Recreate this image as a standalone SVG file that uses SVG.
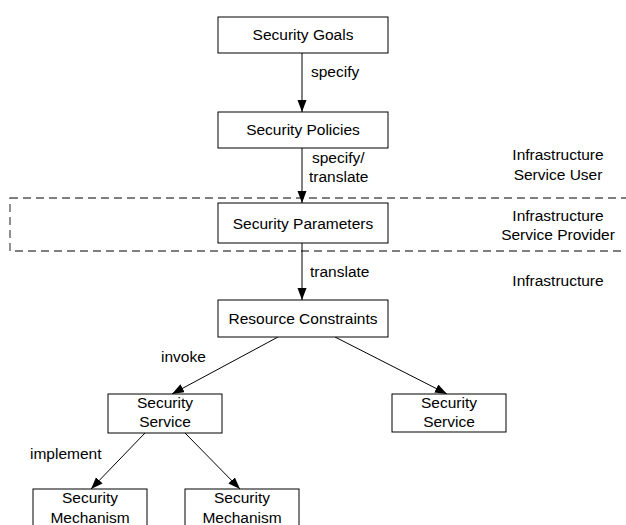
<svg xmlns="http://www.w3.org/2000/svg" width="626" height="525" viewBox="0 0 626 525">
<style>
.box{fill:#fff;stroke:#000;stroke-width:1}
.t{font-family:"Liberation Sans",Arial,sans-serif;font-size:15.5px;fill:#000;text-anchor:middle}
.l{font-family:"Liberation Sans",Arial,sans-serif;font-size:15.5px;fill:#000}
.c{stroke:#000;stroke-width:1;fill:none;marker-end:url(#ah)}
.dash{fill:none;stroke:#555;stroke-width:1.3;stroke-dasharray:8,5}
</style>
<defs>
<marker id="ah" markerUnits="userSpaceOnUse" markerWidth="13" markerHeight="10" refX="12" refY="4.5" orient="auto">
<path d="M0,0 L12,4.5 L0,9 z" fill="#000"/>
</marker>
</defs>
<rect width="626" height="525" fill="#fff"/>
<rect id="provider-zone" class="dash" x="10" y="198" width="630" height="53"/>
<g id="zone-labels">
<text class="t" x="558" y="160">Infrastructure</text>
<text class="t" x="558" y="180">Service User</text>
<text class="t" x="558" y="221">Infrastructure</text>
<text class="t" x="558" y="240">Service Provider</text>
<text class="t" x="558" y="286">Infrastructure</text>
</g>
<g id="connectors">
<line class="c" x1="302" y1="53" x2="302" y2="112"/>
<text class="l" x="311" y="77">specify</text>
<line class="c" x1="302" y1="148" x2="302" y2="203"/>
<text class="l" x="312" y="163">specify/</text>
<text class="l" x="309" y="182">translate</text>
<line class="c" x1="302" y1="243" x2="302" y2="300"/>
<text class="l" x="310" y="277">translate</text>
<line class="c" x1="278" y1="337" x2="172" y2="394"/>
<text class="l" x="161" y="362">invoke</text>
<line class="c" x1="335" y1="337" x2="447" y2="394"/>
<line class="c" x1="145" y1="433" x2="91" y2="489"/>
<text class="l" x="30" y="459">implement</text>
<line class="c" x1="185" y1="433" x2="240" y2="489"/>
</g>
<g id="goals">
<rect class="box" x="218" y="17" width="170" height="36"/>
<text class="t" x="303" y="40">Security Goals</text>
</g>
<g id="policies">
<rect class="box" x="218" y="112" width="170" height="36"/>
<text class="t" x="303" y="135">Security Policies</text>
</g>
<g id="parameters">
<rect class="box" x="218" y="203" width="170" height="40"/>
<text class="t" x="303" y="229">Security Parameters</text>
</g>
<g id="constraints">
<rect class="box" x="218" y="300" width="170" height="37"/>
<text class="t" x="303" y="324">Resource Constraints</text>
</g>
<g id="service-left">
<rect class="box" x="108" y="394" width="114" height="39"/>
<text class="t" x="165" y="408">Security</text>
<text class="t" x="165" y="427">Service</text>
</g>
<g id="service-right">
<rect class="box" x="392" y="394" width="114" height="38"/>
<text class="t" x="449" y="408">Security</text>
<text class="t" x="449" y="427">Service</text>
</g>
<g id="mechanism-left">
<rect class="box" x="33" y="489" width="114" height="50"/>
<text class="t" x="90" y="503">Security</text>
<text class="t" x="90" y="523">Mechanism</text>
</g>
<g id="mechanism-right">
<rect class="box" x="185" y="489" width="114" height="50"/>
<text class="t" x="242" y="503">Security</text>
<text class="t" x="242" y="523">Mechanism</text>
</g>
</svg>
